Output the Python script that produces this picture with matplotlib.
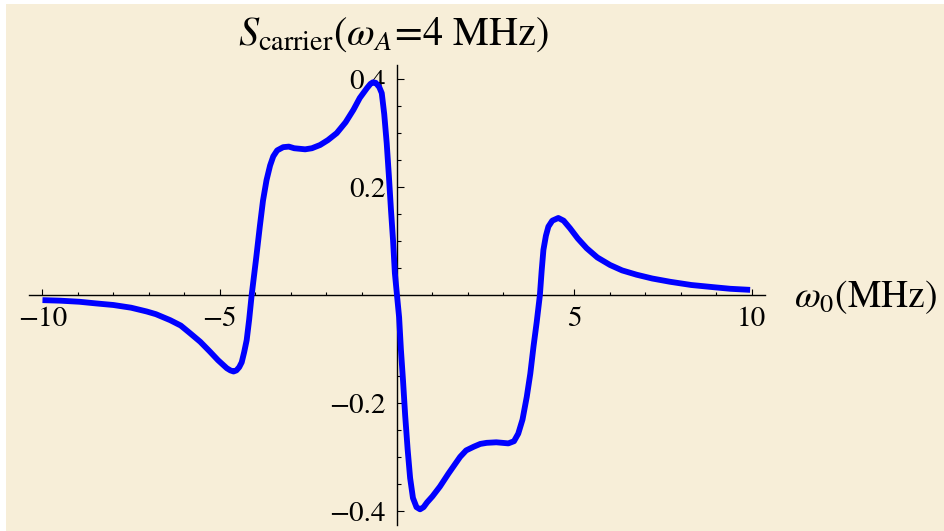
import numpy as np
import matplotlib
matplotlib.use("Agg")
import matplotlib.pyplot as plt
from matplotlib.ticker import FixedLocator, MultipleLocator
from matplotlib.patches import Rectangle

plt.rcParams.update({
    "font.family": "STIXGeneral",
    "mathtext.fontset": "stix",
})

# carrier signal vs detuning omega_0 (MHz), omega_A = 4 MHz
omega0 = [-10.0, -9.5, -8.96, -8.5, -8.0, -7.5, -7.06, -6.8, -6.40, -6.1,
          -5.84, -5.55, -5.28, -5.05, -4.80, -4.70, -4.61, -4.53, -4.45, -4.38,
          -4.31, -4.24, -4.17, -4.10, -3.97, -3.87, -3.78, -3.68, -3.58, -3.49,
          -3.38, -3.21, -3.05, -2.90, -2.59, -2.40, -2.17, -1.95, -1.70, -1.45,
          -1.23, -1.05, -0.85, -0.75, -0.68, -0.60, -0.50, -0.43, -0.36, -0.29,
          -0.23, -0.17, -0.11, -0.06, 0.0, 0.06, 0.11, 0.17, 0.23, 0.30,
          0.37, 0.45, 0.55, 0.65, 0.75, 0.85, 1.0, 1.21, 1.45, 1.78,
          1.95, 2.17, 2.35, 2.53, 2.80, 3.14, 3.30, 3.42, 3.54, 3.66,
          3.76, 3.85, 3.94, 4.03, 4.08, 4.13, 4.20, 4.27, 4.38, 4.55,
          4.70, 4.88, 5.10, 5.35, 5.65, 6.01, 6.35, 6.76, 7.20, 7.70,
          8.30, 8.92, 9.40, 9.96]
s_carrier = [-0.009, -0.010, -0.012, -0.015, -0.018, -0.023, -0.030, -0.035, -0.046, -0.056,
             -0.070, -0.086, -0.104, -0.120, -0.135, -0.139, -0.141, -0.139, -0.133, -0.124,
             -0.105, -0.083, -0.045, 0.0, 0.070, 0.127, 0.175, 0.213, 0.240, 0.257,
             0.268, 0.274, 0.275, 0.272, 0.270, 0.272, 0.278, 0.287, 0.300, 0.320,
             0.343, 0.365, 0.383, 0.391, 0.394, 0.393, 0.385, 0.374, 0.335, 0.281,
             0.222, 0.158, 0.100, 0.041, 0.0, -0.041, -0.100, -0.158, -0.222, -0.285,
             -0.338, -0.375, -0.392, -0.396, -0.392, -0.383, -0.372, -0.354, -0.330, -0.299,
             -0.287, -0.280, -0.275, -0.273, -0.272, -0.274, -0.270, -0.256, -0.230, -0.188,
             -0.145, -0.095, -0.050, 0.0, 0.045, 0.084, 0.110, 0.127, 0.138, 0.143,
             0.138, 0.124, 0.105, 0.087, 0.070, 0.056, 0.046, 0.038, 0.031, 0.025,
             0.019, 0.015, 0.012, 0.010]

x_major = [-10, -5, 5, 10]
y_major = [-0.4, -0.2, 0.2, 0.4]

BG = "#F7EED8"

fig = plt.figure(figsize=(9.44, 5.31), dpi=100, facecolor="white")
fig.patches.append(Rectangle((6 / 944, 0), 1, 1 - 4 / 531, transform=fig.transFigure,
                             facecolor=BG, edgecolor="none", zorder=-10))

ax = fig.add_axes([29 / 944, 6 / 531, 736 / 944, 460 / 531])
ax.set_facecolor("none")
ax.plot(omega0, s_carrier, color="#0000FF", lw=4.2, solid_joinstyle="round",
        solid_capstyle="butt", zorder=3)

ax.set_xlim(-10.38, 10.38)
ax.set_ylim(-0.425, 0.426)

# axes crossing at the origin
for side in ["top", "right"]:
    ax.spines[side].set_visible(False)
ax.spines["left"].set_position(("data", 0))
ax.spines["bottom"].set_position(("data", 0))
for side in ["left", "bottom"]:
    ax.spines[side].set_linewidth(1.0)

ax.xaxis.set_major_locator(FixedLocator(x_major))
ax.yaxis.set_major_locator(FixedLocator(y_major))
ax.xaxis.set_minor_locator(MultipleLocator(1))
ax.yaxis.set_minor_locator(MultipleLocator(0.05))
ax.set_xticklabels(["\u221210", "\u22125", "5", "10"])
ax.set_yticklabels(["\u22120.4", "\u22120.2", "0.2", "0.4"])
ax.tick_params(which="both", direction="in", width=0.8, labelsize=21)
ax.tick_params(axis="x", which="major", length=4.5, pad=8)
ax.tick_params(axis="x", which="minor", length=2.5)
ax.tick_params(axis="y", which="major", length=5, pad=8)
ax.tick_params(axis="y", which="minor", length=3)

fig.text(393 / 944, 1 - 35 / 531, r"$S_{\mathrm{carrier}}(\omega_A\!=\!4\ \mathrm{MHz})$",
         ha="center", va="center", fontsize=29)
fig.text(794 / 944, 1 - 297 / 531, r"$\omega_0(\mathrm{MHz})$",
         ha="left", va="center", fontsize=27)

fig.savefig("out.png", dpi=100, facecolor=fig.get_facecolor())
